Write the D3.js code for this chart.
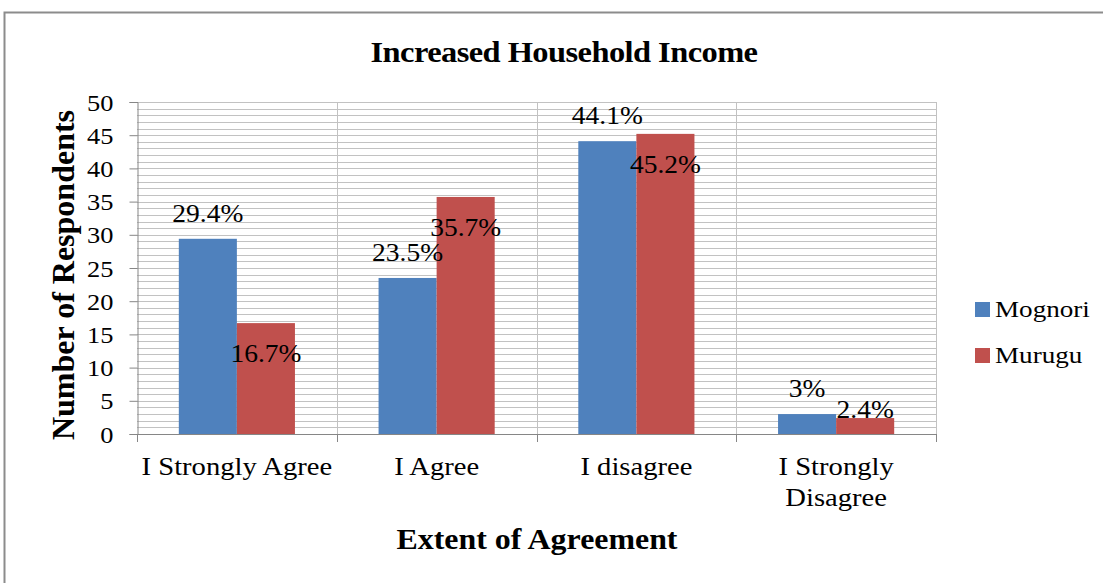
<!DOCTYPE html>
<html><head><meta charset="utf-8">
<script src="https://cdn.jsdelivr.net/npm/d3@7"></script>
<style>body{margin:0;background:#fff}svg{display:block}</style>
</head><body>
<script>
const title = "Increased Household Income";
const xTitle = "Extent of Agreement";
const yTitle = "Number of Respondents";
const categories = [["I Strongly Agree"], ["I Agree"], ["I disagree"], ["I Strongly", "Disagree"]];
const seriesNames = ["Mognori", "Murugu"];
const mognori = [29.4, 23.5, 44.1, 3];
const murugu = [16.7, 35.7, 45.2, 2.4];
const labelsMognori = ["29.4%", "23.5%", "44.1%", "3%"];
const labelsMurugu = ["16.7%", "35.7%", "45.2%", "2.4%"];
const yTicks = [0, 5, 10, 15, 20, 25, 30, 35, 40, 45, 50];
const colors = ["#4F81BD", "#C0504D"];

const FONT = '"Liberation Serif","Times New Roman",serif';
const SX = 1.1; // horizontal stretch of the reference's text
const W = 1103, H = 583;
const svg = d3.select("body").append("svg").attr("width", W).attr("height", H);

function txt(parent, x, y, size, anchor, str, bold, stretch) {
  return parent.append("text")
    .attr("transform", `translate(${x},${y}) scale(${stretch === undefined ? SX : stretch},1)`)
    .attr("text-anchor", anchor)
    .style("font-family", FONT).style("font-size", size + "px")
    .style("font-weight", bold ? "bold" : "normal").style("fill", "#000")
    .text(str);
}

// frame
svg.append("path").attr("d", `M4.5,${H} V12.5 H${W}`).attr("fill", "none").attr("stroke", "#8c8c8c").attr("stroke-width", 2);

const m = {left: 137, right: 936, top: 102, bottom: 434};
const y = d3.scaleLinear().domain([0, 50]).range([m.bottom, m.top]);
const x0 = d3.scaleBand().domain(d3.range(categories.length)).range([m.left, m.right]).paddingInner(0).paddingOuter(0);
const x1 = d3.scaleBand().domain([0, 1]).range([0, x0.bandwidth()]).paddingInner(0).paddingOuter(0.72);

// minor horizontal gridlines
const g = svg.append("g");
g.selectAll("line.h").data(d3.range(1, 51)).join("line")
  .attr("x1", m.left).attr("x2", m.right)
  .attr("y1", d => Math.round(y(d)) + 0.5).attr("y2", d => Math.round(y(d)) + 0.5)
  .attr("stroke", "#c2c2c2").attr("stroke-width", 1);
// vertical gridlines at category boundaries
g.selectAll("line.v").data(d3.range(1, categories.length + 1)).join("line")
  .attr("x1", d => Math.round(m.left + d * x0.bandwidth()) + 0.5)
  .attr("x2", d => Math.round(m.left + d * x0.bandwidth()) + 0.5)
  .attr("y1", m.top).attr("y2", m.bottom)
  .attr("stroke", "#c2c2c2").attr("stroke-width", 1);

// bars
const data = categories.map((c, i) => [mognori[i], murugu[i]]);
const groups = svg.append("g").selectAll("g").data(data).join("g")
  .attr("transform", (d, i) => `translate(${x0(i)},0)`);
groups.selectAll("rect").data(d => d).join("rect")
  .attr("x", (d, j) => x1(j)).attr("width", x1.bandwidth())
  .attr("y", d => y(d)).attr("height", d => y(0) - y(d))
  .attr("fill", (d, j) => colors[j]);

// y axis
const yAxis = d3.axisLeft(y).tickValues(yTicks).tickSize(8).tickFormat(d3.format("d"));
const ya = svg.append("g").attr("transform", `translate(${m.left + 0.5},0)`).call(yAxis);
ya.select(".domain").attr("stroke", "#868686");
ya.selectAll(".tick line").attr("stroke", "#868686");
ya.selectAll(".tick text")
  .attr("x", 0).attr("dy", null).attr("y", 8)
  .attr("transform", `translate(-24,0) scale(${SX},1)`)
  .style("font-family", FONT).style("font-size", "24px").style("fill", "#000");

// x axis
const xb = svg.append("g");
xb.append("line").attr("x1", m.left).attr("x2", m.right).attr("y1", m.bottom + 0.5).attr("y2", m.bottom + 0.5).attr("stroke", "#868686");
xb.selectAll("line.t").data(d3.range(0, categories.length + 1)).join("line")
  .attr("x1", d => Math.round(m.left + d * x0.bandwidth()) + 0.5)
  .attr("x2", d => Math.round(m.left + d * x0.bandwidth()) + 0.5)
  .attr("y1", m.bottom).attr("y2", m.bottom + 8).attr("stroke", "#868686");
categories.forEach((c, i) => {
  const t = txt(xb, x0(i) + x0.bandwidth() / 2, m.bottom + 41, 26, "middle", null);
  t.selectAll("tspan").data(c).join("tspan")
    .attr("x", 0).attr("dy", (d, k) => k === 0 ? 0 : 31).text(d => d);
});

// data labels
const lab = svg.append("g");
categories.forEach((c, i) => {
  const cx0 = x0(i) + x1(0) + x1.bandwidth() / 2;
  txt(lab, cx0, y(mognori[i]) - 26 + 9, 25, "middle", labelsMognori[i]);
  const cx1 = x0(i) + x1(1) + x1.bandwidth() / 2;
  const h = y(0) - y(murugu[i]);
  const yy = h > 45 ? y(murugu[i]) + 30 : y(murugu[i]) - 9;
  txt(lab, cx1, yy + 9, 25, "middle", labelsMurugu[i]);
});

// titles
txt(svg, 564, 62, 29, "middle", title, true, 1.12).attr("letter-spacing", -0.5);
txt(svg, 537, 549, 29, "middle", xTitle, true);
svg.append("text").attr("transform", `translate(74,${(m.top + m.bottom) / 2 + 7}) rotate(-90)`)
  .attr("text-anchor", "middle").style("font-family", FONT).style("font-size", "32px")
  .style("font-weight", "bold").style("fill", "#000").text(yTitle);

// legend
const leg = svg.append("g");
seriesNames.forEach((s, i) => {
  const gy = 309 + i * 46;
  leg.append("rect").attr("x", 975).attr("y", gy - 7).attr("width", 15).attr("height", 15).attr("fill", colors[i]);
  txt(leg, 995, gy + 8, 24, "start", s, false, 1.13);
});
</script>
</body></html>
